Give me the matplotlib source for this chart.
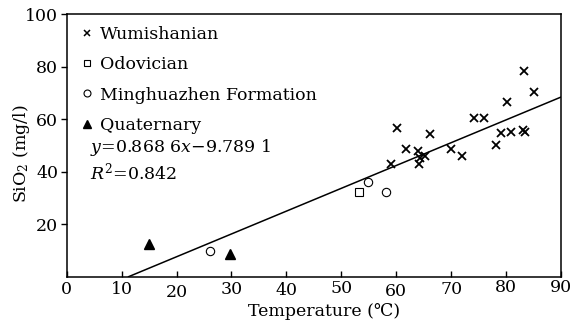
import matplotlib
matplotlib.use("Agg")
import matplotlib.pyplot as plt
import matplotlib.transforms as mtransforms
import numpy as np
from matplotlib.lines import Line2D

plt.rcParams['font.family'] = ['DejaVu Serif', 'DejaVu Sans']
plt.rcParams['mathtext.fontset'] = 'custom'
plt.rcParams['mathtext.rm'] = 'DejaVu Serif'
plt.rcParams['mathtext.it'] = 'DejaVu Serif:italic'

# Data
wumi_x = [83.3, 85.1, 80.2, 74.2, 76.0, 60.1, 66.2, 79.1, 80.9, 83.1, 83.5,
          61.7, 64.0, 65.2, 64.1, 64.3, 59.1, 70.0, 72.0, 78.2]
wumi_y = [78.4, 70.4, 66.6, 60.5, 60.5, 56.6, 54.3, 54.6, 55.0, 55.8, 55.0,
          48.6, 47.8, 46.1, 42.8, 45.0, 42.9, 48.6, 45.9, 50.2]
odo_x = [53.3]
odo_y = [32.1]
ming_x = [54.8, 58.1, 26.1]
ming_y = [36.2, 32.1, 9.9]
quat_x = [15.0, 29.7]
quat_y = [12.4, 8.5]

slope = 0.8686
intercept = -9.7891

xticks = [0, 10, 20, 30, 40, 50, 60, 70, 80, 90]
yticks = [20, 40, 60, 80, 100]

FS = 12.5

fig = plt.figure(figsize=(5.71, 3.29), dpi=100)
ax = fig.add_axes([0.1168, 0.159, 0.8657, 0.7984])

ax.plot(wumi_x, wumi_y, linestyle='none', marker='x', ms=5.5, mew=1.3, color='black')
ax.plot(odo_x, odo_y, linestyle='none', marker='s', ms=6, mew=0.8, mfc='white', mec='black')
ax.plot(ming_x, ming_y, linestyle='none', marker='o', ms=6, mew=0.8, mfc='white', mec='black')
ax.plot(quat_x, quat_y, linestyle='none', marker='^', ms=7, color='black')

x0 = -intercept / slope
xl = np.array([x0, 90])
ax.plot(xl, slope * xl + intercept, color='black', lw=1.1)

ax.set_xlim(0, 90)
ax.set_ylim(0, 100)
ax.set_xticks(xticks)
ax.set_yticks(yticks)
ax.tick_params(axis='x', direction='in', length=4, width=1, labelsize=FS, pad=3)
ax.tick_params(axis='y', direction='out', length=4, width=1, labelsize=FS, pad=2)
for s in ax.spines.values():
    s.set_linewidth(1.1)

# slight vertical stagger of x tick labels as in the reference (pixels, + = down)
stagger = {20: 3, 40: 0.7, 50: -0.7, 60: 2, 80: -1.5, 90: -1.5}
for tv, lab in zip(xticks, ax.get_xticklabels()):
    dy = stagger.get(tv, 0)
    if dy:
        off = mtransforms.ScaledTranslation(0, -dy / 100.0, fig.dpi_scale_trans)
        lab.set_transform(lab.get_transform() + off)

ax.set_xlabel('Temperature (\u2103)', fontsize=FS)
ax.xaxis.set_label_coords(0.52, -0.10)
ax.set_ylabel(r'SiO$_2$ (mg/l)', fontsize=FS)
ax.yaxis.set_label_coords(-0.07, 0.47)

handles = [
    Line2D([], [], linestyle='none', marker='x', ms=4.5, mew=1.1, color='black'),
    Line2D([], [], linestyle='none', marker='s', ms=5, mew=0.8, mfc='white', mec='black'),
    Line2D([], [], linestyle='none', marker='o', ms=5, mew=0.8, mfc='white', mec='black'),
    Line2D([], [], linestyle='none', marker='^', ms=6, color='black'),
]
labels = ['Wumishanian', 'Odovician', 'Minghuazhen Formation', 'Quaternary']
ax.legend(handles, labels, loc='upper left', bbox_to_anchor=(0.005, 1.0),
          frameon=False, fontsize=FS, handlelength=0.6, handletextpad=0.45,
          labelspacing=0.76, borderaxespad=0.3)

ax.text(0.048, 0.49, '$y$=0.868 6$x$\u22129.789 1',
        transform=ax.transAxes, fontsize=FS, va='center', ha='left')
ax.text(0.048, 0.395, r'$R^2$=0.842', transform=ax.transAxes, fontsize=FS,
        va='center', ha='left')

fig.savefig('out.png', dpi=100)
